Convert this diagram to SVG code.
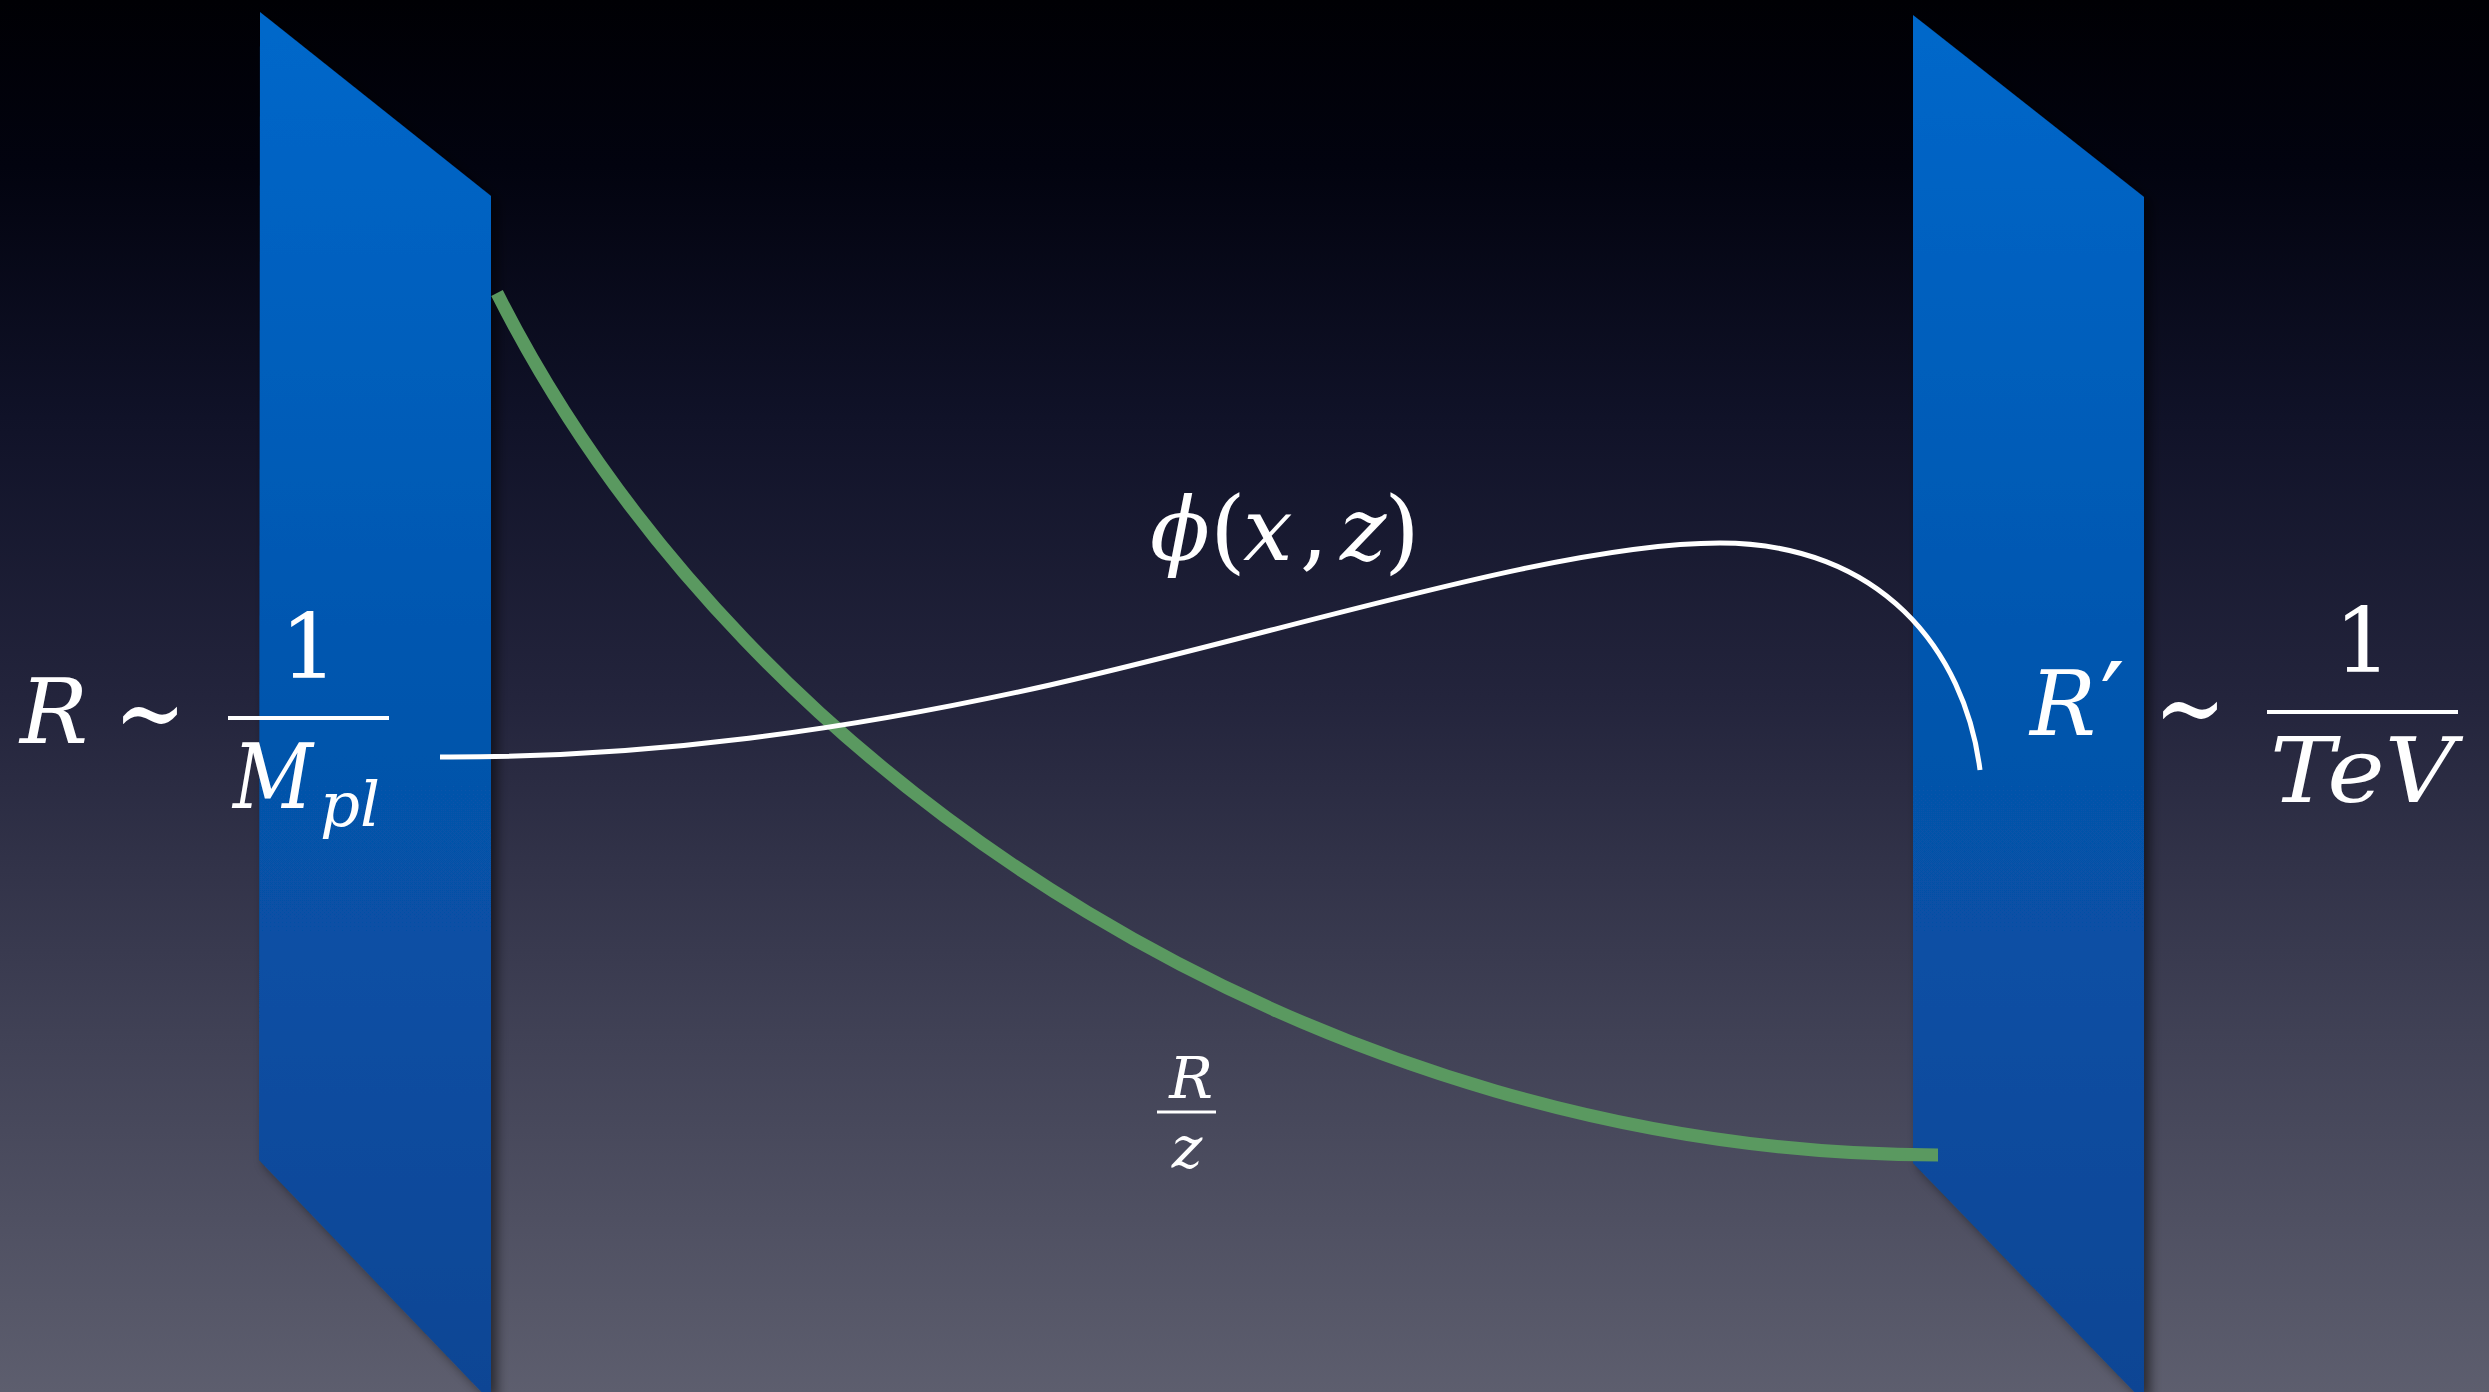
<svg xmlns="http://www.w3.org/2000/svg" width="2489" height="1392" viewBox="0 0 2489 1392">
  <defs>
    <linearGradient id="bg" x1="0" y1="0" x2="0" y2="1392" gradientUnits="userSpaceOnUse">
      <stop offset="0" stop-color="#000004"/>
      <stop offset="0.12" stop-color="#02030f"/>
      <stop offset="0.3" stop-color="#101228"/>
      <stop offset="0.5" stop-color="#23243c"/>
      <stop offset="0.75" stop-color="#414256"/>
      <stop offset="1" stop-color="#5d5e6e"/>
    </linearGradient>
    <linearGradient id="brane" x1="0" y1="0" x2="0" y2="1392" gradientUnits="userSpaceOnUse">
      <stop offset="0" stop-color="#0068cb"/>
      <stop offset="0.45" stop-color="#0557b0"/>
      <stop offset="1" stop-color="#0a4594"/>
    </linearGradient>
    <filter id="shadow" x="-20%" y="-10%" width="140%" height="120%">
      <feDropShadow dx="6" dy="4" stdDeviation="6" flood-color="#000000" flood-opacity="0.55"/>
    </filter>
  </defs>
  <style>
    .brane { fill: url(#brane); filter: url(#shadow); }
    text { fill: #ffffff; font-family: "DejaVu Serif", "Liberation Serif", serif; }
    .it { font-style: italic; }
    .bar { stroke: #ffffff; stroke-width: 4; }
    .green { fill: none; stroke: #5a9960; stroke-width: 13; stroke-linecap: butt; }
    .white { fill: none; stroke: #ffffff; stroke-width: 5; stroke-linecap: butt; }
  </style>

  <rect x="0" y="0" width="2489" height="1392" fill="url(#bg)"/>

  <g id="brane-left">
    <polygon class="brane" points="260,12 491,196 491,1402 259,1160"/>
  </g>
  <g id="brane-right">
    <polygon class="brane" points="1913,15 2144,197 2144,1402 1913,1163"/>
  </g>

  <g id="connectors">
    <path id="warp-factor" class="green" d="M497,293 C750,795 1338,1155 1938,1155"/>
    <path id="field-profile" class="white" d="M440,757 C650,758 850,730 1050,685 C1300,628 1560,543 1720,543 C1880,543 1965,650 1980,770"/>
  </g>

  <g id="label-uv">
    <text class="it" x="20" y="743" font-size="90" textLength="68" lengthAdjust="spacingAndGlyphs">R</text>
    <text x="114" y="750" font-size="110" textLength="72" lengthAdjust="spacingAndGlyphs">∼</text>
    <text x="309" y="678" font-size="90" text-anchor="middle">1</text>
    <line class="bar" x1="228" y1="718" x2="389" y2="718"/>
    <text class="it" x="233" y="808" font-size="90" textLength="80" lengthAdjust="spacingAndGlyphs">M</text>
    <text class="it" x="320" y="826" font-size="62" textLength="60" lengthAdjust="spacingAndGlyphs">pl</text>
  </g>

  <g id="label-ir">
    <text class="it" x="2030" y="735" font-size="90" textLength="66" lengthAdjust="spacingAndGlyphs">R</text>
    <text x="2100" y="742" font-size="110">′</text>
    <text x="2154" y="745" font-size="110" textLength="72" lengthAdjust="spacingAndGlyphs">∼</text>
    <text x="2363" y="672" font-size="90" text-anchor="middle">1</text>
    <line class="bar" x1="2267" y1="712" x2="2458" y2="712"/>
    <text class="it" x="2270" y="802" font-size="90" textLength="185" lengthAdjust="spacingAndGlyphs">TeV</text>
  </g>

  <g id="label-field">
    <text class="it" x="1150" y="560" font-size="88">ϕ</text>
    <text x="1210" y="562" font-size="92">(</text>
    <text class="it" x="1243" y="560" font-size="88">x</text>
    <text x="1300" y="560" font-size="88">,</text>
    <text class="it" x="1340" y="560" font-size="88">z</text>
    <text x="1384" y="562" font-size="92">)</text>
  </g>

  <g id="label-warp">
    <text class="it" x="1191" y="1098" font-size="58" text-anchor="middle">R</text>
    <line x1="1157" y1="1112" x2="1216" y2="1112" stroke="#ffffff" stroke-width="3"/>
    <text class="it" x="1187" y="1168" font-size="58" text-anchor="middle">z</text>
  </g>
</svg>
